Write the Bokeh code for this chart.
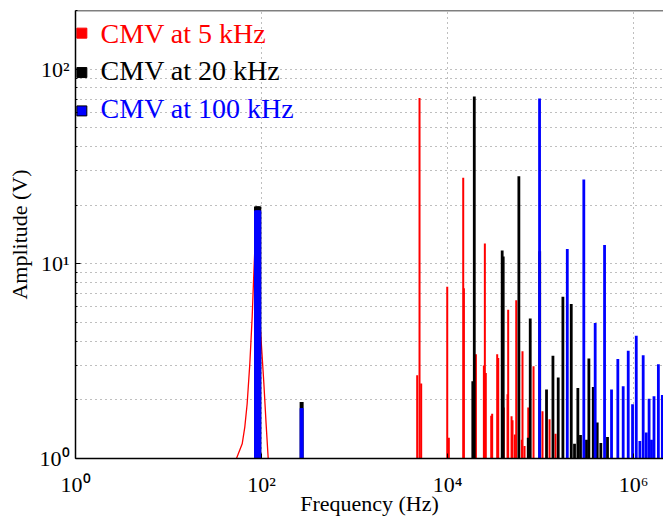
from bokeh.plotting import figure
from bokeh.models import FixedTicker, CustomJSTickFormatter, ColumnDataSource, Span
from bokeh.embed import file_html
from bokeh.resources import INLINE
from bokeh.core.properties import value

# ---------------- data ----------------
series_names = ["CMV at 5 kHz", "CMV at 20 kHz", "CMV at 100 kHz"]
series_colors = ["red", "black", "blue"]

# red: broad low-frequency bump (drawn as a line)
red_curve_freq = [53.8, 62.0, 66.1, 70.1, 74.9, 79.4, 82.7, 84.7, 89.9, 97.5, 106, 112, 118]
red_curve_amp = [1.0, 1.19, 1.45, 1.91, 3.08, 5.35, 8.95, 11.8, 7.95, 4.57, 2.43, 1.51, 1.0]

# red spectral lines
red_freq = [4720, 5000, 5210, 9930, 10330, 14750, 15000, 20200, 24600, 25200, 25800,
            29500, 30200, 34200, 35100, 40300, 44200, 44900, 48800, 50000, 53000, 54800,
            63000, 64000, 67300, 73800, 84100, 105000, 125000, 145000]
red_amp = [2.68, 71.0, 2.43, 7.63, 1.28, 27.7, 7.5, 3.43, 3.0, 12.7, 2.75,
           1.66, 1.7, 3.43, 3.28, 1.83, 2.14, 5.8, 1.65, 1.57, 1.33, 6.5,
           1.25, 3.56, 1.16, 1.83, 2.98, 1.75, 1.59, 1.34]

# black spectral lines
black_freq = [86, 88, 90, 92, 94, 96, 266, 270, 274,
              18700, 19400, 38700, 39700, 58500, 73800, 77500, 98000, 116000, 136000,
              155000, 174000, 214000, 232000, 252000, 269000, 312000, 331000, 369000,
              407000, 445000, 525000]
black_amp = [19.7, 19.7, 19.7, 19.7, 19.7, 19.7, 1.95, 1.95, 1.95,
             2.49, 72.3, 11.7, 10.9, 28.2, 1.28, 5.24, 11.6, 2.26, 3.37,
             2.61, 6.78, 6.22, 1.19, 2.3, 1.32, 1.25, 3.26, 2.33,
             1.53, 1.2, 1.29]

# blue spectral lines
blue_freq = [86, 88, 90, 92, 94, 96, 266, 270, 274,
             97600, 194000, 292000, 387000, 488000, 580000, 678000, 774000, 877000,
             976000, 1070000, 1170000, 1270000, 1370000, 1470000, 1560000, 1660000,
             1850000, 2040000]
blue_amp = [18.8, 18.8, 18.8, 18.8, 18.8, 18.8, 1.81, 1.81, 1.81,
            70.6, 11.9, 27.1, 4.97, 12.5, 2.26, 3.24, 2.35, 3.58,
            1.9, 4.27, 1.23, 3.39, 1.36, 2.03, 1.25, 2.09,
            3.05, 2.12]

x_major = [1, 1e2, 1e4, 1e6]
y_major = [1, 10, 100]
y_minor = [2, 3, 4, 5, 6, 7, 8, 9, 20, 30, 40, 50, 60, 70, 80, 90, 200]

x_lim = (1, 2.1e6)
y_lim = (1, 200)
baseline = 0.9

# legend placement (data coordinates)
legend_marker_x = [1.17, 1.17, 1.17]
legend_marker_y = [153, 96, 61]
legend_text_x = [1.86, 1.86, 1.86]
legend_text_y = [152, 98, 63]

FONT = "Liberation Serif"

# ---------------- figure ----------------
p = figure(width=663, height=519, x_axis_type="log", y_axis_type="log",
           x_range=x_lim, y_range=y_lim, output_backend="svg",
           toolbar_location=None, min_border_left=75, min_border_right=0,
           min_border_top=10, min_border_bottom=61)
p.outline_line_color = None
p.background_fill_color = "white"
p.border_fill_color = "white"

sup = CustomJSTickFormatter(code="""
const s = {"0":"\u2070","1":"\u00b9","2":"\u00b2","3":"\u00b3","4":"\u2074","5":"\u2075","6":"\u2076","7":"\u2077","8":"\u2078","9":"\u2079","-":"\u207b"};
const e = String(Math.round(Math.log10(tick)));
let out = "10";
for (const c of e) out += s[c];
return out;
""")

xt = FixedTicker(ticks=x_major, minor_ticks=[])
yt = FixedTicker(ticks=y_major, minor_ticks=y_minor)

xa = p.xaxis[0]
xa.ticker = xt
xa.formatter = sup
ya = p.yaxis[0]
ya.ticker = yt
ya.formatter = sup

for ax in (xa, ya):
    ax.major_tick_in = 5
    ax.major_tick_out = 0
    ax.minor_tick_in = 2
    ax.minor_tick_out = 0
    ax.axis_line_width = 1.5
    ax.axis_line_color = "black"
    ax.major_label_text_font = FONT
    ax.major_label_text_font_size = "22px"
    ax.major_label_text_color = "black"
    ax.axis_label_text_font = FONT
    ax.axis_label_text_font_size = "22px"
    ax.axis_label_text_font_style = "normal"
    ax.axis_label_text_color = "black"

xa.axis_label = "Frequency (Hz)"
ya.axis_label = "Amplitude (V)"
xa.major_label_standoff = 13
xa.axis_label_standoff = -9
ya.major_label_standoff = 6
ya.axis_label_standoff = 5

# top spine
p.add_layout(Span(location=y_lim[1], dimension="width", line_color="black", line_width=1.5))

# grids
p.xgrid.ticker = xt
p.ygrid.ticker = yt
for g in (p.xgrid[0], p.ygrid[0]):
    g.grid_line_color = "black"
    g.grid_line_alpha = 0.5
    g.grid_line_dash = "1 4"
    g.grid_line_width = 1
p.ygrid.minor_grid_line_color = "black"
p.ygrid.minor_grid_line_alpha = 0.5
p.ygrid.minor_grid_line_dash = "1 4"
p.ygrid.minor_grid_line_width = 1

# ---------------- data glyphs ----------------
p.line(red_curve_freq, red_curve_amp, line_color="red", line_width=1.3)

def spikes(freqs, amps, color, width):
    src = ColumnDataSource(dict(x=freqs, top=amps, bottom=[baseline] * len(freqs)))
    p.segment(x0="x", y0="bottom", x1="x", y1="top", source=src,
              line_color=color, line_width=width)

spikes(red_freq, red_amp, "red", 2.0)
spikes(black_freq, black_amp, "black", 2.8)
spikes(blue_freq, blue_amp, "blue", 2.8)

# legend (custom: coloured text)
p.scatter(x=legend_marker_x, y=legend_marker_y, marker="square", size=10,
          fill_color=series_colors, line_color=["red", "black", "black"], line_width=1)
p.text(x=legend_text_x, y=legend_text_y, text=series_names, text_color=series_colors,
       text_font=value(FONT), text_font_size="28px", text_baseline="middle", text_align="left")

open("out.html", "w").write(file_html(p, INLINE))
